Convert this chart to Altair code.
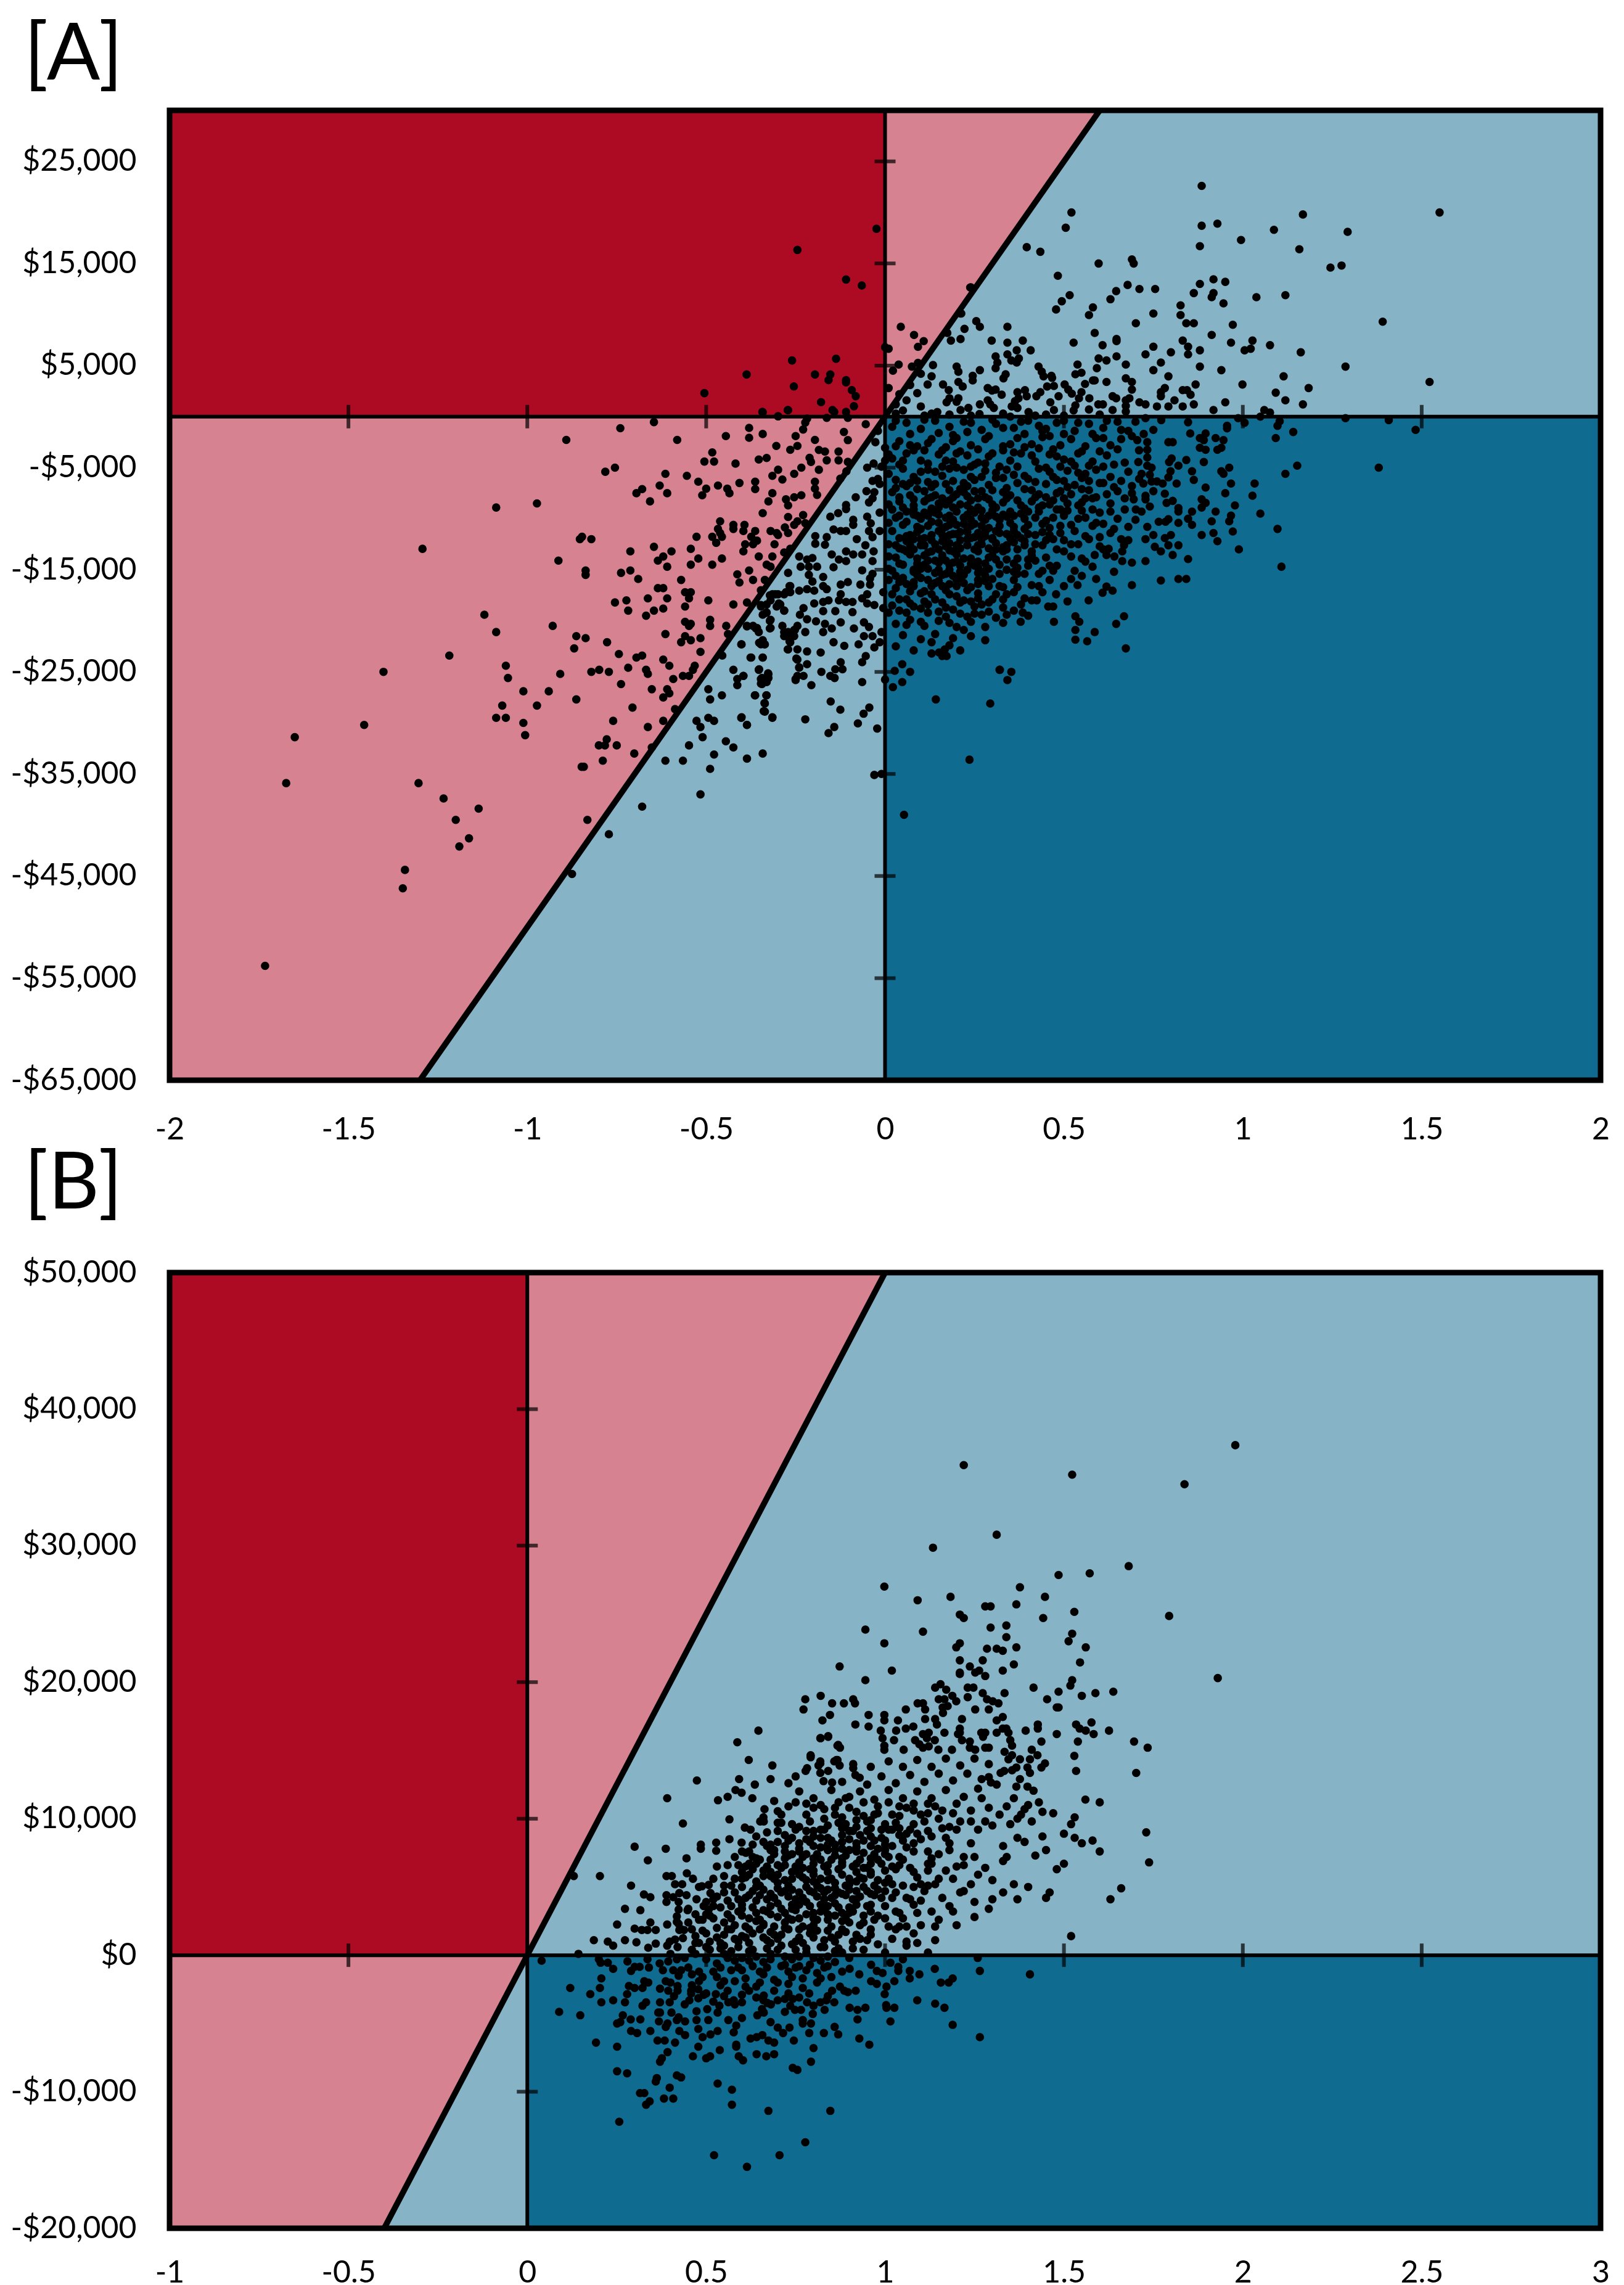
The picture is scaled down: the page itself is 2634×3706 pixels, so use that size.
import altair as alt
import pandas as pd

# All scatter values: (score, thousands of dollars)
A_LEFT = [(-1.733,-53.8),(-.024,18.4),(-.505,2.3),(-.891,-2.28),(-.74,-1.13),(-.646,-.54),(-.581,-2.28),(-1.087,-8.9),(-.973,-8.5),(-.782,-5.4),(-.755,-5),(-.614,-5.6),(-.554,-5.8),(-.505,-4.4),(-.478,-4.4),(-.483,-3.5),(-.445,-1.9),(-.38,-1.1),(-.38,-2.07),(-.342,-1.7),(-.342,.43),(-.299,.04),(-.271,.63),(-.25,-1.9),(-.304,-2.87),(-.265,-3.25),(-.245,-2.87),(-.331,-4.05),(-.353,-4.2),(-.418,-4.6),(-.299,-5.2),(-.315,-5.8),(-.254,-5.6),(-.287,-6.16),(-.363,-6.37),(-.363,-7.1),(-.407,-6.5),(-.467,-6.75),(-.522,-6.37),(-.5,-7.06),(-.511,-7.7),(-.441,-7.06),(-.435,-7.5),(-.315,-7.5),(-.326,-8.3),(-.277,-8.1),(-.271,-8.7),(-.254,-7.9),(-.342,-9.45),(-.271,-9.83),(-.63,-6.75),(-.679,-7.1),(-.695,-7.5),(-.657,-8.3),(-.609,-7.5),(-.853,-12),(-.847,-11.77),(-.821,-12),(-1.293,-12.95),(-.913,-14.1),(-.837,-15.07),(-.837,-15.5),(-.712,-13.2),(-.646,-12.75),(-.597,-13.2),(-.62,-13.7),(-.635,-14.1),(-.609,-14.7),(-.543,-12.95),(-.522,-13.9),(-.543,-14.5),(-.527,-11.77),(-.483,-11.77),(-.467,-11),(-.461,-10.25),(-.461,-11.4),(-.456,-11.77),(-.472,-12.36),(-.424,-10.6),(-.424,-11),(-.393,-10.6),(-.396,-11.2),(-.363,-11.2),(-.374,-11.77),(-.358,-12.15),(-.391,-12.5),(-.369,-12.5),(-.396,-13.2),(-.456,-13.9),(-.483,-14.5),(-.353,-13.7),(-.315,-13.7),(-.309,-12.5),(-.32,-11.2),(-.303,-11.4),(-.299,-11.6),(-.28,-10.85),(-.271,-11.4),(-.254,-10.6),(-.245,-10.25),(-.331,-14.5),(-.32,-14.7),(-.282,-13.3),(-.265,-12.95),(-.413,-15.45),(-.407,-16.25),(-.38,-15.07),(-.369,-16),(-.738,-15.3),(-.712,-15.07),(-.69,-15.9),(-.57,-16),(-.635,-16.8),(-.62,-16.8),(-.559,-17.2),(-.543,-17.2),(-.548,-17.8),(-.663,-17.8),(-.609,-17.8),(-.755,-18.2),(-.723,-18),(-.718,-19),(-.646,-19),(-.62,-18.8),(-.668,-19.5),(-.559,-18.6),(-.494,-18),(-.424,-18.4),(-.386,-18.2),(-1.12,-19.4),(-1.087,-21.1),(-.929,-20.5),(-.863,-21.5),(-.837,-21.7),(-.869,-22.7),(-.777,-22.1),(-.614,-21.3),(-.559,-20.1),(-.543,-20.3),(-.548,-20.5),(-.489,-19.9),(-.489,-20.5),(-.516,-21.7),(-.559,-21.5),(-.57,-22.1),(-.543,-21.9),(-.516,-23.04),(-.444,-20.5),(-.439,-21.3),(-1.218,-23.4),(-1.06,-24.4),(-1.054,-25.6),(-1.402,-25),(-.744,-23.25),(-.695,-23.6),(-.679,-23.4),(-.718,-24.6),(-.668,-24.8),(-.663,-25.2),(-.821,-25),(-.799,-24.8),(-.772,-25),(-.908,-25.2),(-.62,-23.8),(-.603,-24.4),(-.565,-25.4),(-.548,-25.4),(-.537,-24.8),(-.532,-24.4),(-.738,-26.2),(-.592,-25.7),(-.652,-26.7),(-.609,-26.7),(-.603,-27.1),(-.62,-27.5),(-1.011,-26.9),(-.94,-26.9),(-.863,-27.7),(-1.07,-28.3),(-.973,-28.3),(-1.087,-29.5),(-1.06,-29.5),(-1.011,-30),(-1.006,-31.2),(-.706,-28.5),(-.587,-28.65),(-.76,-29.8),(-.62,-29.8),(-.663,-30.4),(-1.456,-30.2),(-1.65,-31.4),(-.778,-31.6),(-.8,-32.2),(-.783,-32.2),(-.75,-32.2),(-.701,-33),(-.789,-33.7),(-.848,-34.3),(-.842,-34.3),(-.652,-32.4),(-1.674,-35.9),(-1.304,-35.9),(-1.234,-37.4),(-1.136,-38.4),(-1.2,-39.5),(-.832,-39.5),(-1.163,-41.3),(-1.19,-42.1),(-1.342,-44.4),(-1.348,-46.2),(-.875,-44.8)]
A_BLUE_LOW = [(-.772,-40.9),(-.679,-38.2),(-.516,-37),(-.489,-34.5),(-.614,-33.7),(-.565,-33.7),(-.548,-32.2),(-.51,-31.4),(-.478,-33.1),(-.445,-31.8),(-.424,-32.4),(-.386,-33.5),(-.342,-33),(-.527,-29.8),(-.516,-30.4),(-.494,-29.5),(-.478,-29.8),(-.402,-29.5),(-.386,-30.2),(-.315,-29.5),(-.336,-28.9),(-.336,-28.1),(-.331,-27.3),(-.363,-27.3),(-.494,-26.7),(-.489,-27.7),(-.456,-27.3),(-.413,-25.7),(-.413,-26.3),(-.396,-25.4),(-.424,-24.8),(-.344,-25.6),(-.344,-26.2),(-.331,-26),(-.326,-25.2),(-.326,-25.6),(-.353,-24.8),(-.374,-23.6),(-.342,-23.6),(-.455,-23.4),(-.402,-22.3),(-.347,-22.3),(-.342,-21.9),(-.336,-22.3),(-.386,-20.5),(-.369,-20.5),(-.358,-20.7),(-.353,-21.1),(-.287,-20.5),(-.32,-19.9),(-.32,-20.7),(-.342,-19.4),(-.331,-19.2),(-.282,-19),(-.303,-18.6),(-.293,-18.4),(-.347,-18.6),(-.331,-18.4),(-.32,-18),(-.315,-17.4),(-.299,-17.4),(-.282,-17.4),(-.276,-17.2),(-.265,-16.6),(-.265,-17.2),(-.347,-17),(-.336,-16),(-.271,-15.3),(-.282,-21.1),(-.271,-21.1),(-.254,-20.9),(-.245,-20.5),(-.276,-21.5),(-.254,-21.5),(-.265,-22.1),(-.271,-22.8),(-.245,-22.8),(-.245,-23.8),(-.24,-24.6),(-.25,-25.7),(-.245,-25.4)]
A_TOP_LEFT = [(-.245,16.33),(-.109,13.43),(-.065,12.85),(-.26,5.5),(-.137,5.67),(-.387,4.13),(-.196,4.13),(-.153,4.13),(-.158,3.58),(-.109,3.58),(-.109,3.36),(-.255,2.96),(-.093,2.6),(-.082,2),(-.179,1.42),(-.087,1.02),(-.343,.47),(-.272,.65),(-.147,.65),(-.142,.47),(-.109,.47),(-.299,.03),(-.163,-.12),(-.104,-.12),(-.218,-.2),(-.223,-.58),(-.054,-.74),(-.229,-1.26),(-.115,-1.5),(-.104,-2.3),(-.196,-2.28),(-.185,-3.26),(-.168,-3.42),(-.13,-3.42),(-.211,-4.03),(-.207,-4.43),(-.163,-4.28),(-.13,-4.28),(-.104,-4.43),(-.234,-5),(-.185,-5.2),(-.196,-6.37),(-.196,-7.05),(-.19,-7.67),(-.125,-6.07),(-.108,-5.36),(-.234,-7.7),(-.229,-9.64),(-.223,-10.44),(0,6.8),(.01,6.65),(.044,8.8),(.081,8),(.108,7.4),(.092,6.84),(.24,12.67),(.213,10.1),(.01,2.8),(.022,4.5),(.038,5.1),(.075,4.9),(.092,5.27),(.04,2.2),(.07,3.1),(.1,4.2),(.03,1.2),(.06,1.6),(.09,2.3)]
A_BLUE_MID = [(-.027,-2.5),(0,-3.05),(0,-4.3),(-.032,-4.6),(-.05,-5),(-.01,-4.9),(-.035,-6.3),(-.02,-6.1),(-.052,-7.3),(-.03,-7.4),(-.015,-6.6),(-.035,-8),(-.045,-8.4),(-.082,-7.9),(-.109,-8.65),(-.109,-9.05),(-.089,-10.1),(-.089,-10.6),(-.131,-9.45),(-.153,-9.8),(-.015,-9.4),(-.05,-9.8),(-.04,-10.45),(-.045,-11.2),(-.035,-11.8),(-.055,-12.6),(-.079,-12),(-.015,-11.2),(-.195,-11.7),(-.195,-12.45),(-.168,-12.55),(-.109,-11.2),(-.124,-11.2),(-.144,-11.05),(-.163,-11.8),(-.109,-13.2),(-.064,-13.5),(-.089,-13.5),(-.149,-13.5),(-.129,-14),(-.144,-14.75),(-.109,-14.15),(-.24,-13.7),(-.218,-14),(-.203,-13.85),(-.236,-14.7),(-.213,-14.7),(-.19,-14.7),(-.032,-13.2),(-.035,-14.15),(-.035,-15.4),(-.064,-15.05),(-.042,-15.85),(-.069,-16.45),(-.042,-16.45),(-.104,-16.2),(-.124,-16.45),(-.173,-15.7),(-.213,-15.5),(-.203,-16.15),(-.173,-16.6),(-.163,-16.9),(-.24,-17.05),(-.218,-16.9),(-.198,-17.05),(-.267,-16.6),(-.277,-17.2),(-.307,-17.4),(-.322,-17.5),(-.347,-18.45),(-.297,-18.3),(-.282,-19),(-.332,-19.2),(-.228,-18.75),(-.238,-19.4),(-.198,-18.3),(-.173,-18.15),(-.158,-18),(-.124,-17.4),(-.129,-18),(-.109,-18.15),(-.091,-18.15),(-.064,-17.8),(-.05,-17.4),(-.05,-18.3),(-.03,-18.45),(-.005,-17.2),(-.005,-18.75),(-.139,-19.05),(-.173,-19.05),(-.091,-19.15),(-.218,-19.85),(-.193,-20.05),(-.168,-20.3),(-.149,-20.75),(-.124,-20.15),(-.087,-20.75),(-.059,-20.15),(-.045,-20.6),(-.173,-21.1),(-.223,-21.1),(-.252,-20.9),(-.282,-21.5),(-.267,-22),(-.322,-20),(-.322,-20.75),(-.361,-20.75),(-.386,-20.55),(-.352,-22.15),(-.337,-22.3),(-.401,-22.3),(-.144,-22.1),(-.114,-22.45),(-.059,-21.5),(-.035,-21.5),(-.01,-21.1),(-.015,-22.1),(-.03,-22.6),(-.074,-22.3),(-.272,-22.8),(-.218,-23),(-.18,-23.1),(-.248,-23.7),(-.376,-23.6),(-.342,-23.6),(-.054,-23.45),(-.064,-24.05),(-.124,-24.05),(-.119,-24.75),(-.139,-24.75),(-.24,-24.55),(-.218,-24.25),(-.352,-24.75),(-.327,-25.15),(-.347,-25.7),(-.347,-26.15),(-.396,-25.4),(-.25,-25.8),(-.228,-25.4),(-.178,-25),(-.153,-25.4),(-.141,-25.6),(-.064,-26),(-.206,-26.3),(0,-25.75),(-.364,-27.3),(-.332,-27.3),(-.337,-28.05),(-.339,-28.85),(-.315,-29.45),(-.401,-29.45),(-.386,-30.2),(-.223,-29.65),(-.152,-27.9),(-.125,-28.7),(-.044,-28.5),(-.06,-29.1),(-.076,-30.05),(-.142,-30.4),(-.158,-31),(-.022,-30.55),(.022,-26.5),(.048,-26),(.027,-24.9),(.048,-24.25),(.07,-25),(.142,-27.7),(.294,-28.1),(.321,-24.8),(.353,-25),(.342,-25.8),(-.03,-35.1),(-.01,-35),(.053,-39),(.236,-33.6)]
A_UPPER = [(.885,22.6),(.521,20),(.505,18.5),(1.168,19.8),(1.55,20),(.929,18.9),(.885,18.7),(1.087,18.3),(1.293,18.1),(.995,17.3),(.88,16.7),(1.158,16.4),(.396,16.6),(.434,16.15),(.69,15.4),(.695,15),(.597,15),(1.245,14.6),(1.276,14.8),(.483,13.8),(.678,12.9),(.711,12.5),(.755,12.5),(.646,12.3),(.238,12.65),(.88,13),(.918,13.45),(.951,13.2),(.863,12.1),(.918,12.1),(.913,11.7),(.946,11.1),(1.038,11.7),(1.119,11.9),(.516,11.9),(.494,11.3),(.478,10.5),(.63,11.5),(.581,10.7),(.57,9.95),(.826,10.9),(.826,9.95),(.75,10.1),(.701,9.15),(.842,9.15),(.863,9.15),(.972,9),(1.391,9.3),(.255,9.35),(.265,8.8),(.342,8.8),(.222,8.6),(.211,10.1),(.586,8.2),(.913,8),(.174,8.2),(.184,7.45),(.211,7.6),(.298,7.45),(.342,7.25),(.385,7.45),(.647,7.6),(.647,7.4),(.527,7.25),(.608,7),(.832,7.45),(.847,6.85),(.847,6.1),(.967,7.25),(1.027,7.45),(1.022,6.65),(1.005,6.5),(1.076,7),(.75,6.85),(.728,6.1),(.88,6.5),(.799,6.3),(1.162,6.3),(.407,6.5),(.368,6.5),(.342,6.1),(.309,5.9),(.314,5.3),(.309,4.75),(.374,5.7),(.353,5.5),(.368,5.3),(.647,5.9),(.597,5.7),(.619,5.5),(.673,5.1),(.771,5.3),(.88,4.9),(.94,4.55),(.75,4.55),(1.287,4.9),(.538,5.1),(.592,4.75),(.429,4.9),(.2,4.9),(.134,5.05),(.205,4.4),(.265,4.55),(.245,4),(.245,3.55),(.438,4.4),(.443,3.95),(.465,4),(.467,3.8),(.337,4.15),(.331,3.75),(.13,3.95),(.549,4.3),(.532,4.15),(.673,3.75),(.792,3.95),(1.114,3.95),(.581,3.55),(.586,3.55),(.619,3.4),(.69,3.4),(.69,2.65),(.559,3.2),(.868,3.15),(.999,3.15),(1.522,3.4),(.205,3.4),(.217,2.95),(.162,3.15),(.119,3.15),(.453,2.95),(.472,3),(.502,3.15),(.512,2.65),(.178,2.6),(.287,2.8),(.299,2.55),(.309,2.65),(.37,2.4),(.391,2.6),(1.184,2.8),(.782,2.8),(.771,2.4),(.771,2),(.832,2.6),(.844,2.6),(.854,2.15),(.326,2.15),(.434,2.4),(.423,2),(.396,2),(.373,1.8),(.363,1.5),(.485,2),(.522,2.25),(.549,2.4),(.571,1.8),(.542,1.8),(.636,2),(.646,1.8),(.683,1.8),(.673,1.6),(1.092,2.35),(1.119,1.6),(.18,1.8),(.205,1.8),(.172,1.4),(.2,1.45),(.287,1.6),(.294,1.2),(.304,.85),(.462,1.4),(.809,1.6),(.951,1.4),(.711,1.4),(.728,1.2),(.863,1.2),(.832,1),(.792,1),(.76,1),(1.168,1.2),(.265,1.2),(.233,.85),(.211,.65),(.354,1),(.37,.85),(.596,1.2),(.609,1.2),(.472,.65),(.532,1.1),(.527,.6),(.57,.7),(.636,.65),(.673,1.05),(.673,.5),(.401,.45),(.146,.45),(.918,.65),(1.06,.65),(1.076,.4),(.264,.25),(.05,.6),(.1,1),(.13,.3),(.03,.3),(.11,.1),(.18,.2),(.24,.1),(.33,.3),(.45,.2),(.5,.1),(.6,.2),(.35,.0),(.42,.1)]
A_RIGHT = [(1.287,-.15),(1.408,-.35),(1.483,-1.3),(1.38,-5),(1.152,-4.8),(1.119,-5.6),(1.141,-1.5),(1.092,-2.1),(1.097,-.9),(1.103,-.45),(1.049,0),(.987,-.15),(1.005,-.6),(.956,-.9),(.956,-1.15),(.946,-2.3),(.94,-3.05),(.929,-3.25),(.924,-2.1),(.896,-1.65),(.88,-2.1),(.891,-2.3),(.88,-3.05),(.896,-3.25),(.853,-1.65),(.847,-.55),(.891,-4.45),(.842,-4.25),(.82,-4.8),(.858,-5.35),(.863,-6.2),(.962,-5),(.94,-5.35),(.946,-5.6),(.896,-6.95),(.967,-6.55),(1.033,-6.55),(1.027,-7.75),(.951,-7.5),(.885,-8.1),(.896,-8.45),(.885,-8.9),(.978,-8.7),(1.049,-9.5),(.924,-9.3),(.967,-9.7),(.962,-10.25),(.858,-9.3),(.847,-10),(.858,-10.6),(.913,-10.25),(.972,-11.25),(1.097,-11),(.918,-11.4),(.929,-12.2),(.885,-11.6),(.989,-13),(.847,-13.95),(1.108,-14.7),(.804,-13.55),(.82,-12.6),(.792,-12.6),(.771,-13.2),(.754,-12.75),(.842,-15.9),(.82,-15.9),(.771,-16.05),(.728,-14.15),(.728,-12),(.733,-10.8),(.75,-11.6),(.765,-10.3),(.784,-10.3),(.799,-11.6),(.782,-11.9),(.792,-10.05),(.82,-10.4),(.82,-8.95),(.82,-9.3),(.787,-8.45),(.804,-8.25),(.782,-7.55),(.75,-7.3),(.728,-7.75),(.728,-8.1),(.695,-8.1),(.717,-9.3),(.701,-9.1),(.722,-6.55),(.745,-6.35),(.76,-6.35),(.776,-6.55),(.815,-6.55),(.792,-5.95),(.798,-5.35),(.717,-5.6),(.794,-4.45),(.801,-4.1),(.708,-4.45),(.733,-4),(.733,-4.8),(.745,-5),(.733,-3.25),(.733,-2.5),(.792,-2.5),(.804,-2.5),(.75,-1.3),(.705,-2.3),(.723,-1.7),(.772,-.35),(.728,-.15),(.69,-14.3),(.663,-14.15),(.641,-13.7),(.619,-13.55),(.586,-13.55),(.663,-13.2),(.668,-12.6),(.625,-12.95),(.69,-16.5),(.619,-16.65),(.608,-17.25),(.636,-17.05),(.538,-16.5),(.569,-18),(.478,-17.4),(.456,-18.6),(.424,-18),(.668,-19.55),(.646,-20.3),(.586,-21.1),(.532,-19.55),(.543,-20.1),(.532,-20.9),(.532,-21.85),(.565,-22),(.673,-22.7),(.472,-20.1),(.385,-19.2),(.379,-20.1),(.32,-24.8),(.151,-23.1),(.167,-22.8),(.172,-23.45),(.16,-23.45)]
A_CORE = [(.02,-1),(.06,-.6),(.1,-1.2),(.14,-.4),(.18,-1),(.22,-.5),(.27,-1.3),(.31,-.7),(.36,-1.1),(.4,-.4),(.45,-1.2),(.48,-.6),(.53,-1.4),(.57,-.7),(.61,-1.1),(.65,-.5),(.68,-1.4),(.04,-2.4),(.09,-2.9),(.13,-2.2),(.17,-3),(.2,-2.1),(.24,-2.8),(.28,-2.2),(.33,-2.9),(.37,-2.1),(.41,-2.7),(.44,-2),(.49,-2.8),(.52,-2.2),(.56,-2.9),(.59,-2.1),(.63,-2.8),(.66,-2.2),(.02,-4.1),(.06,-3.6),(.1,-4.3),(.15,-3.7),(.19,-4.4),(.23,-3.8),(.26,-4.5),(.3,-3.6),(.35,-4.3),(.38,-3.6),(.42,-4.4),(.46,-3.7),(.5,-4.2),(.54,-3.6),(.58,-4.4),(.62,-3.8),(.67,-4.5),(.01,-5.6),(.05,-5.1),(.08,-5.9),(.12,-5.2),(.16,-5.8),(.2,-5),(.24,-5.9),(.28,-5.3),(.31,-6),(.34,-5.2),(.39,-5.8),(.43,-5.1),(.47,-5.9),(.51,-5.3),(.55,-6),(.59,-5.2),(.63,-5.9),(.68,-5.4),(.03,-7),(.07,-6.5),(.11,-7.3),(.14,-6.6),(.18,-7.2),(.22,-6.5),(.25,-7.3),(.29,-6.7),(.33,-7.4),(.37,-6.5),(.41,-7.2),(.45,-6.6),(.49,-7.3),(.53,-6.7),(.57,-7.2),(.61,-6.5),(.65,-7.3),(.69,-6.8),(.01,-8.6),(.04,-7.9),(.08,-8.7),(.12,-8),(.15,-8.5),(.19,-7.9),(.23,-8.7),(.26,-8),(.3,-8.6),(.34,-8),(.38,-8.7),(.42,-7.9),(.46,-8.6),(.5,-8),(.54,-8.7),(.58,-8),(.63,-8.5),(.67,-8),(.03,-9.9),(.06,-9.3),(.1,-10),(.13,-9.2),(.17,-9.9),(.2,-9.3),(.24,-10.1),(.27,-9.2),(.31,-9.8),(.35,-9.3),(.39,-10),(.43,-9.3),(.47,-9.9),(.51,-9.2),(.56,-9.9),(.6,-9.4),(.65,-10),(.02,-11.2),(.05,-10.6),(.09,-11.3),(.12,-10.7),(.15,-11.2),(.18,-10.6),(.21,-11.3),(.24,-10.7),(.28,-11.3),(.32,-10.7),(.36,-11.2),(.4,-10.6),(.44,-11.3),(.49,-10.7),(.53,-11.2),(.58,-10.7),(.63,-11.4),(.68,-10.8),(.01,-12.5),(.04,-11.9),(.07,-12.6),(.1,-12),(.14,-12.5),(.17,-11.9),(.2,-12.6),(.23,-12),(.27,-12.5),(.3,-12),(.34,-12.6),(.38,-11.9),(.42,-12.5),(.47,-12),(.52,-12.5),(.57,-12),(.6,-12.7),(.66,-12),(.03,-13.8),(.06,-13.2),(.09,-13.9),(.13,-13.2),(.16,-13.8),(.19,-13.2),(.22,-13.9),(.26,-13.2),(.29,-13.8),(.33,-13.2),(.37,-13.9),(.41,-13.2),(.45,-13.8),(.5,-13.2),(.55,-13.9),(.02,-15.1),(.05,-14.5),(.08,-15.2),(.11,-14.5),(.15,-15),(.18,-14.5),(.21,-15.2),(.25,-14.6),(.28,-15.1),(.32,-14.5),(.36,-15.2),(.4,-14.6),(.44,-15.1),(.48,-14.6),(.53,-15.1),(.58,-14.7),(.64,-15.2),(.04,-16.2),(.08,-16.6),(.12,-16),(.16,-16.6),(.2,-16),(.24,-16.7),(.28,-16.1),(.32,-16.6),(.36,-16),(.41,-16.5),(.46,-16),(.5,-16.6),(.02,-17.4),(.06,-17.9),(.1,-17.3),(.14,-17.9),(.18,-17.4),(.22,-18),(.26,-17.3),(.3,-17.9),(.34,-17.4),(.39,-17.8),(.44,-17.2),(.04,-19),(.08,-18.6),(.12,-19.2),(.17,-18.7),(.21,-19.3),(.25,-18.6),(.29,-19.1),(.33,-18.7),(.38,-18.4),(.03,-20.3),(.07,-19.9),(.11,-20.5),(.15,-20),(.2,-20.6),(.24,-20.1),(.28,-20.6),(.33,-20.2),(.05,-21.4),(.1,-21.8),(.14,-21.3),(.19,-21.7),(.24,-21.5),(.28,-21.9),(.03,-22.5),(.08,-22.9),(.13,-23.2),(.21,-22.9),(.11,-9.4),(.15,-10.4),(.19,-8.9),(.22,-10.5),(.16,-12.2),(.09,-10.8),(.25,-11.8),(.12,-13.3),(.2,-13.5),(.07,-11.6),(.27,-9.9),(.13,-7.9),(.18,-11.6),(.23,-7.8),(.05,-8.9),(.29,-10.9),(.1,-15.8),(.17,-15.4),(.26,-14.2),(.31,-12.4),(.34,-9.8),(.37,-11.6),(.41,-8.3),(.45,-10.2),(.5,-6.3),(.55,-8.4),(.6,-3.4),(.47,-3.2),(.52,-10.6),(.57,-4.8)]
A_DENSE = [(.03,-6.2),(.07,-7.7),(.1,-5.4),(.13,-6.9),(.16,-8),(.19,-6.3),(.22,-7.4),(.25,-6.2),(.28,-7.9),(.31,-5.5),(.34,-7),(.37,-8.2),(.4,-6.1),(.43,-7.6),(.46,-5.4),(.49,-9.1),(.02,-9.1),(.06,-10.3),(.08,-8.1),(.11,-11.9),(.14,-9.4),(.16,-11),(.18,-9.7),(.2,-10.6),(.21,-8.6),(.23,-9.6),(.25,-10.5),(.26,-8.9),(.28,-10.1),(.3,-9.2),(.32,-11.4),(.33,-8.4),(.35,-10.4),(.38,-9.5),(.4,-11.5),(.42,-9.9),(.44,-8.7),(.46,-10.9),(.48,-7.5),(.5,-9.7),(.03,-12.6),(.06,-11.7),(.08,-13),(.11,-12.6),(.13,-11.6),(.15,-13),(.17,-12.7),(.19,-11.5),(.21,-12.9),(.23,-11.3),(.25,-13),(.27,-12),(.29,-12.9),(.31,-11.2),(.33,-12.8),(.35,-11.9),(.37,-13),(.39,-12.2),(.41,-13.6),(.44,-12.6),(.46,-11.6),(.04,-14.4),(.07,-13.5),(.1,-14.9),(.12,-14.1),(.14,-15.3),(.16,-13.6),(.18,-15),(.2,-14.2),(.22,-15.5),(.24,-13.9),(.26,-15.3),(.28,-14.4),(.3,-13.6),(.32,-15.4),(.34,-14),(.36,-14.4),(.39,-15.4),(.42,-14.1),(.46,-14.6),(.01,-16),(.03,-15.6),(.06,-16.4),(.09,-15.5),(.13,-16.6),(.15,-16.1),(.18,-16.4),(.22,-16.3),(.26,-16.4),(.3,-15.9),(.33,-16.7),(.37,-15.4),(.04,-17.9),(.07,-17.1),(.11,-18.1),(.13,-17.4),(.16,-18.2),(.2,-17.6),(.24,-18.1),(.27,-18.4),(.31,-17.4),(.36,-17.2),(.41,-18),(.02,-18.5),(.06,-19.2),(.1,-18.8),(.15,-19.1),(.19,-18.9),(.23,-19.6),(.27,-19.4),(.31,-19.7),(.01,-3.7),(.04,-4.7),(.08,-3.3),(.12,-4.6),(.17,-4.3),(.21,-3.4),(.25,-4.7),(.29,-3.9),(.33,-3.3),(.37,-4.9),(.41,-3.8),(.45,-5),(.49,-4.9),(.53,-4.8),(.56,-5.6),(.6,-6.5),(.62,-7.6),(.56,-8),(.52,-7.6),(.58,-9.1),(.61,-10.5),(.54,-10),(.56,-11.7),(.5,-12.1),(.48,-13),(.52,-13.7),(.47,-15.1),(.55,-15.6),(.43,-16.6),(.61,-13),(.63,-9.3),(.66,-6.3),(.64,-4.7),(.71,-3.3),(.74,-5.7),(.69,-7.5),(.7,-10.1),(.74,-8.8),(.68,-12.1),(.12,-6.4),(.17,-6.6),(.09,-7.1),(.21,-7.1),(.13,-9),(.08,-9.6),(.15,-8.9),(.18,-8.2),(.1,-11),(.13,-10.3),(.17,-10.8),(.2,-11.5),(.23,-10.9),(.26,-11.4),(.08,-12),(.05,-13),(.18,-13.1),(.23,-12.6),(.14,-14.1),(.19,-14.3),(.11,-13.6),(.24,-14.4),(.08,-15),(.16,-15.5),(.21,-15.7),(.26,-16),(.29,-14.9),(.3,-11.9),(.27,-10.7),(.29,-8.1),(.33,-9.6),(.24,-9.1),(.36,-10.8),(.39,-12.6),(.34,-13),(.06,-6.8),(.22,-5.2),(.16,-4.9),(.03,-2.9),(.07,-1.7),(.12,-2.6),(.15,-1.6),(.19,-2.4),(.23,-1.5),(.26,-3.2),(.29,-1.9),(.33,-1.1),(.35,-2.7),(.39,-1.7),(.43,-.9),(.46,-1.9),(.5,-1.7),(.54,-.6)]
A_DENSE2 = [(.04,-8.3),(.09,-6.3),(.14,-5.4),(.18,-5.1),(.23,-6.8),(.27,-5.9),(.3,-7.2),(.33,-6),(.36,-5.7),(.39,-7.1),(.42,-6.4),(.45,-7.9),(.48,-6.2),(.51,-6.9),(.54,-5.5),(.57,-6.3),(.61,-4.9),(.64,-6.9),(.02,-7.4),(.05,-6.6),(.08,-9.1),(.11,-8.3),(.14,-7.7),(.17,-8.6),(.2,-7.6),(.24,-8.2),(.27,-7.3),(.31,-8.9),(.35,-7.7),(.39,-9),(.43,-8.9),(.47,-8.2),(.51,-8.5),(.55,-7.1),(.59,-7.9),(.06,-12.2),(.09,-9.7),(.12,-9.7),(.15,-9.6),(.19,-10.1),(.22,-9.9),(.25,-9.4),(.29,-9.7),(.32,-10.1),(.36,-9.7),(.4,-9.3),(.44,-10.5),(.48,-9.1),(.55,-9.2),(.59,-10.4),(.1,-12.6),(.13,-12.1),(.16,-11.6),(.18,-12.4),(.21,-12.1),(.24,-11.9),(.26,-12.6),(.28,-11.7),(.31,-13),(.34,-11.5),(.36,-12.3),(.39,-11),(.42,-11.6),(.45,-12.1),(.49,-11.4),(.54,-12.5),(.09,-14.4),(.12,-14.9),(.15,-14.3),(.17,-14.1),(.19,-15.6),(.21,-14.6),(.23,-15),(.26,-14.8),(.28,-15.6),(.31,-14),(.34,-15),(.37,-14.8),(.4,-14),(.43,-15.4),(.05,-15.8),(.08,-16.2),(.11,-17.1),(.14,-16.3),(.17,-17),(.2,-16.6),(.23,-17),(.26,-17.8),(.29,-16.6),(.33,-17.9),(.37,-16.7),(.07,-18.3),(.12,-18.4),(.17,-19.6),(.21,-18.2),(.25,-19.3),(.29,-18.2),(.34,-19.4),(.01,-10.4),(.04,-9.7),(.01,-13.7),(.04,-12.9),(.01,-14.9),(.03,-16.8),(.01,-19.2),(.06,-20.4),(.1,-20.1),(.18,-20.2),(.22,-20.9),(.13,-22.1),(.18,-22.4),(.36,-19),(.4,-19.5),(.47,-18.6),(.51,-18.1),(.52,-15.9),(.56,-14.2),(.59,-15.9),(.6,-11.8),(.64,-11),(.67,-9.1),(.71,-6.1),(.65,-3.2),(.69,-1.9),(.62,-.4),(.58,-1.7),(.55,-3.4),(.52,-4.4),(.48,-3.9),(.43,-3.1),(.39,-3),(.36,-3.5),(.32,-4.9),(.28,-4.6),(.24,-4.9),(.2,-3.6),(.16,-3.3),(.11,-3.3),(.07,-2.8),(.05,-4.3),(.66,-1.3),(.7,-.5),(.61,-2.1),(.5,-.4),(.44,-1.4),(.38,-.5),(.3,-.3),(.24,-.6),(.19,-1.8),(.11,-.3),(.03,-.4),(-.02,-1.4)]

B_UPPER = [(1.979,37.36),(1.837,34.5),(1.523,35.2),(1.22,35.9),(1.312,30.8),(1.134,29.85),(1.681,28.5),(1.572,27.97),(1.485,27.85),(.998,27),(1.377,26.95),(1.447,26.25),(1.183,26.25),(1.091,26),(1.367,25.7),(1.28,25.55),(1.295,25.55),(1.529,25.15),(1.209,24.95),(1.22,24.7),(1.442,24.7),(1.794,24.85),(1.295,24),(1.339,24.15),(.945,23.85),(1.106,23.7),(1.339,23.3),(1.523,23.55),(1.513,23),(1.561,22.55),(.998,22.85),(1.209,22.85),(1.199,22.55),(1.367,22.55),(1.285,22.45),(1.312,22.45),(1.329,22.3),(.873,21.15),(1.019,20.85),(.945,20.15),(1.209,21.6),(1.273,21.6),(1.237,21.15),(1.36,21.3),(1.545,21.45),(1.329,20.85),(1.263,20.85),(1.252,20.7),(1.209,20.7),(1.209,20.6),(1.28,20.45),(1.93,20.3),(1.523,20.15),(1.518,19.75),(1.415,19.6),(1.485,19.3),(1.638,19.3),(1.588,19.2),(1.55,19),(1.453,18.75),(1.48,18.15),(1.485,18.15),(1.155,19.85),(1.14,19.6),(1.171,19.45),(1.231,19.6),(1.247,19.6),(1.188,19),(1.199,18.6),(1.231,18.9),(1.273,19.2),(1.285,18.75),(1.301,18.6),(1.317,18.45),(1.334,19.2),(1.15,18.75),(1.166,18.75),(1.161,18.15),(1.175,18.25),(1.162,17.75),(1.252,18),(1.29,18),(1.091,18.45),(1.106,18.45),(1.112,18),(1.058,18),(.82,19),(.777,18.75),(.772,18),(.852,18.45),(.885,18.45),(.911,18.75),(.916,18.45),(.846,17.6),(.825,17.2),(.954,17.6),(.954,16.75),(.917,16.9),(.998,17.6),(.998,17.2),(1.112,17.3),(1.14,17.3),(1.145,16.9),(1.215,17.3),(1.329,17.45),(1.312,17.2),(1.036,17.2),(1.079,16.75),(1.058,16.6),(1.031,16.45),(.988,16.45),(1.427,16.9),(1.427,16.6),(1.534,16.9),(1.544,16.6),(1.561,16.45),(1.577,17.05),(1.583,16.2),(1.626,16.45),(1.48,16.2),(1.393,16.45),(1.209,16.6),(1.209,16.3),(1.204,16.2),(1.166,16.3),(1.269,16.3),(1.28,16.3),(1.274,16),(1.312,16.3),(1.329,16.6),(1.339,16.6),(1.345,16.3),(1.106,16.2),(1.122,16.3),(1.117,15.9),(1.139,15.75),(1.084,15.75),(1.096,15.45),(1.106,15.2),(1.122,15.3),(.993,15.9),(1.025,15.75),(.998,15.35),(.998,15.05),(1.052,15.05),(1.149,15.05),(1.187,15.05),(1.215,15.75),(1.237,15.65),(1.237,15.2),(1.252,15.05),(1.28,15.2),(1.29,15.2),(1.35,15.75),(1.355,15.35),(1.334,14.9),(1.41,15.05),(1.426,14.65),(1.437,15.65),(1.539,15.65),(1.696,15.65),(1.734,15.2),(1.529,14.6),(1.534,13.5),(1.702,13.35),(1.447,14.05),(1.437,13.75),(1.405,14.35),(1.398,13.75),(1.405,13.35),(1.345,14.35),(1.355,14.65),(1.377,14.35),(1.367,13.75),(1.355,13.55),(1.333,13.5),(1.323,13.35),(1.377,12.9),(1.367,12.35),(1.398,12.35),(1.415,12.05),(1.312,12.5),(1.296,12.65),(1.29,13.05),(.841,16.05),(.82,15.9),(.867,15.35),(.874,15.2),(.792,14.65),(.792,14.5),(.819,14.2),(.814,13.9),(.858,14.2),(.867,14.3),(.873,13.9),(.911,14),(.911,13.7),(.917,13.2),(.929,13),(.778,13.5),(.841,13.5),(.819,13.35),(.828,12.75),(.852,12.65),(1.63,4.1),(1.738,6.8),(1.73,9),(1.66,4.9),(1.58,8.4),(1.5,8.9),(1.55,8.2),(1.6,7.6),(1.53,8.6),(1.52,9.6),(1.53,10.1),(1.56,11.4),(1.6,11.2),(1.5,6.7),(1.46,4.6),(1.45,4.2),(1.52,1.4),(1.48,6.3),(1.45,7.7),(1.42,7.3),(1.44,8.7),(1.41,9.8),(1.44,10.5),(1.4,11),(1.43,11.2),(1.47,10.4),(1.39,10.7),(1.37,10),(1.34,10.9),(1.36,11.5),(1.38,10.3),(1.35,9.6),(1.3,9.5),(1.32,10.3),(1.29,10.8),(1.27,11.5),(1.28,9.8),(1.26,9.2),(1.34,7.2),(1.37,8.6),(1.39,8.3),(1.33,8),(1.33,6.9),(1.36,5.2),(1.4,5),(1.37,4.1),(1.33,4.6),(1.3,4.1),(1.3,5.5),(1.28,6.4),(1.24,8.2),(1.22,6.6),(1.26,5.9),(1.25,3.9),(1.22,4.7),(1.29,3.4),(1.25,2.8)]
B_LOWER = [(.614,-15.5),(.522,-14.65),(.705,-14.65),(.777,-13.7),(.257,-12.2),(.674,-11.4),(.847,-11.4),(.572,-10.95),(.572,-9.85),(.532,-9.4),(.408,-10.5),(.382,-10.5),(.342,-10.7),(.332,-10.95),(.315,-10.1),(.327,-10.1),(.398,-9.7),(.362,-9),(.359,-9.25),(.418,-8.8),(.43,-8.95),(.251,-8.5),(.279,-8.65),(.742,-8.25),(.755,-8.4),(.793,-7.8),(.251,-6.7),(.192,-6.4),(.089,-4.15),(.148,-4.4),(.956,-6.55),(.928,-6.1),(1.265,-6),(1.189,-5.1),(1.166,-3.85),(1.14,-3.55),(1.09,-3.3),(1.026,-3.85),(1.004,-3.85),(1.003,-3.65),(1.015,-4.85),(.923,-4.7),(.923,-4),(.945,-3.85),(.901,-3.85),(1.405,-1.4),(1.265,-1.15),(1.259,-.2),(1.189,-1.7),(1.178,-2),(1.156,-2),(1.139,-1),(1.096,-1.4),(1.069,-1.15),(1.069,-1.7),(1.026,-1.9),(1.004,-2.3),(.999,-2.85),(.977,-2.1),(.961,-1.9),(.977,-1.15),(.993,-1.3),(.961,-.7),(.928,-1.4),(.901,-.99),(1.037,-1.15),(1.037,-.85),(1.015,-.55),(.918,-2.6),(.896,-2.7),(.886,-2.6),(.874,-2.3),(.852,-2.6),(.858,-3.45),(.836,-3.3),(.819,-3.45),(.831,-4),(.798,-4.3),(.765,-4),(.748,-4),(.72,-4.15),(.77,-4.75),(.793,-5),(.77,-5),(.788,-5.7),(.829,-5.7),(.859,-5.25),(.869,-5.8),(.745,-6.25),(.8,-6.8),(.7,-5.3),(.733,-5.3),(.715,-5.7),(.674,-6.25),(.69,-6.4),(.69,-7.25),(.668,-7.4),(.641,-7.25),(.591,-7.4),(.603,-7.7),(.624,-6.1),(.641,-6),(.657,-5.85),(.584,-6.7),(.584,-6.55),(.538,-6.95),(.511,-7.4),(.5,-7.55),(.463,-7.4),(.478,-6.7),(.392,-7.1),(.371,-7.8),(.376,-7.55),(.413,-6.4),(.384,-6.25),(.364,-6.25),(.441,-5.85),(.425,-5.55),(.392,-5),(.387,-5.25),(.368,-4.85),(.366,-4.2),(.316,-4.7),(.289,-4.7),(.29,-5.55),(.307,-5.7),(.344,-5.55),(.267,-4.4),(.26,-4.9),(.251,-5),(.322,-3.7),(.332,-3.45),(.273,-3.45),(.24,-3.3),(.207,-3.45),(.176,-2.85),(.203,-2.4),(.207,-1.7),(.284,-2.25),(.3,-2.4),(.322,-2.4),(.279,-2.85),(.327,-1.9),(.338,-2),(.371,-2.45),(.394,-2.6),(.42,-2.6),(.42,-2.25),(.387,-1.9),(.371,-3.45),(.371,-4.2),(.398,-3.45),(.403,-4.2),(.423,-4.55),(.441,-4.85),(.418,-4.75),(.478,-2.5),(.478,-3.15),(.493,-2.9),(.458,-2.6),(.458,-2.8),(.453,-3.3),(.473,-4.1),(.473,-4.75),(.503,-3.95),(.506,-4.75),(.527,-2.85),(.55,-3),(.537,-3.7),(.562,-3.45),(.577,-3.3),(.532,-4.2),(.562,-4.75),(.584,-5.15),(.532,-5.55),(.512,-5.8),(.478,-5.4),(.49,-6),(.6,-2.9),(.6,-3.45),(.661,-2.95),(.671,-3.5),(.656,-3.95),(.643,-4.4),(.681,-3.6),(.73,-2.8),(.735,-3.7),(.742,-3.2),(.782,-3.45),(.788,-2.8),(.661,-4.2),(.577,-5.65)]
B_LEFT = [(.203,5.8),(.3,7.95),(.337,6.95),(.29,5.1),(.387,7.8),(.435,9.65),(.391,11.5),(.474,12.8),(.533,11.35),(.56,11.6),(.582,12.1),(.599,11.9),(.587,15.6),(.646,16.45),(.592,12.9),(.636,12.5),(.68,12.9),(.619,14.3),(.685,13.9),(.629,11.5),(.565,9.95),(.565,8.5),(.445,7.1),(.446,6),(.485,8.1),(.485,7.8),(.528,8.25),(.528,7.65),(.599,8.25),(.611,7.5),(.608,9.35),(.624,9.2),(.651,9.8),(.661,9.8),(.663,10.7),(.7,10.55),(.69,11.3),(.73,12.6),(.75,13.1),(.782,13.7),(.819,14.05),(.819,15.9),(.841,16),(.792,14.6),(.869,15.4),(.864,14.3),(.273,3.4),(.316,3.3),(.251,2.25),(.3,1.95),(.32,1.85),(.336,1.85),(.359,1.85),(.344,2.4),(.391,2.25),(.418,2.45),(.425,1.85),(.438,1.85),(.186,1.1),(.225,1),(.24,.7),(.273,1.1),(.305,.95),(.359,.85),(.338,.55),(.391,.7),(.398,1),(.413,1.15),(.435,1.25),(.143,.1),(.2,-.3),(.205,-.55),(.225,-.55),(.28,-.45),(.29,-1.15),(.3,-.85),(.314,-.85),(.336,-.3),(.379,-1.1),(.394,-.45),(.418,-.3),(.408,-1.1),(.423,-1.5),(.326,4.45),(.344,4.25),(.389,5.8),(.404,5.8),(.413,5.2),(.433,5.2),(.425,4.55),(.389,4.4),(.389,3.9),(.408,4.25),(.423,3.9),(.445,4.4),(.423,3.35),(.448,3.3),(.418,2.85),(.423,2.3),(.463,5.6),(.488,5.05),(.507,5.15),(.512,4.55),(.473,4.1),(.493,3.6),(.507,3.35),(.04,-.4),(.13,5.8),(.12,-2.4),(.24,-1),(.34,-.9)]
B_CORE = [(.46,.4),(.5,-.3),(.54,.5),(.58,-.4),(.62,.3),(.66,-.5),(.7,.4),(.74,-.3),(.78,.5),(.82,-.4),(.86,.3),(.9,-.2),(.94,.4),(1,.2),(1.06,.7),(.48,-1.2),(.53,-1.6),(.57,-1.1),(.61,-1.7),(.65,-1.2),(.69,-1.8),(.73,-1.2),(.77,-1.7),(.81,-1.3),(.85,-1.6),(.47,1.4),(.51,1),(.55,1.5),(.59,1),(.63,1.6),(.67,1.1),(.71,1.5),(.75,1),(.79,1.6),(.83,1.1),(.87,1.5),(.91,1),(.96,1.5),(1.02,1.2),(1.08,1.6),(1.14,1.1),(.49,2.6),(.53,2),(.57,2.7),(.61,2.1),(.65,2.6),(.69,2.1),(.73,2.7),(.77,2.1),(.81,2.6),(.85,2.1),(.89,2.7),(.93,2.2),(.97,2.6),(1.01,2.1),(1.05,2.7),(1.1,2.2),(1.15,2.6),(1.2,2.2),(.52,3.6),(.56,3),(.6,3.7),(.64,3.1),(.68,3.6),(.72,3.1),(.76,3.7),(.8,3.1),(.84,3.6),(.88,3.1),(.92,3.7),(.96,3.2),(1,3.6),(1.04,3.1),(1.08,3.7),(1.13,3.2),(1.18,3.6),(.55,4.6),(.59,4.1),(.63,4.7),(.67,4.1),(.71,4.6),(.75,4.1),(.79,4.7),(.83,4.1),(.87,4.6),(.91,4.1),(.95,4.7),(.99,4.2),(1.03,4.6),(1.07,4.1),(1.11,4.7),(1.16,4.2),(1.21,4.6),(.52,5.6),(.57,5.1),(.61,5.7),(.65,5.1),(.69,5.6),(.73,5.1),(.77,5.7),(.81,5.1),(.85,5.6),(.89,5.1),(.93,5.7),(.97,5.1),(1.01,5.6),(1.05,5.1),(1.09,5.7),(1.14,5.2),(1.19,5.6),(.56,6.6),(.6,6.1),(.64,6.7),(.68,6.1),(.72,6.6),(.76,6.1),(.8,6.7),(.84,6.1),(.88,6.6),(.92,6.1),(.96,6.7),(1,6.2),(1.04,6.6),(1.08,6.1),(1.12,6.7),(1.17,6.2),(.6,7.6),(.64,7.1),(.68,7.7),(.72,7.1),(.76,7.6),(.8,7.1),(.84,7.7),(.88,7.1),(.92,7.6),(.96,7.1),(1,7.7),(1.04,7.2),(1.08,7.6),(1.13,7.1),(1.18,7.7),(1.22,7.2),(.64,8.7),(.68,8.1),(.72,8.8),(.76,8.2),(.8,8.7),(.84,8.1),(.88,8.8),(.92,8.2),(.96,8.7),(1,8.1),(1.04,8.8),(1.08,8.2),(1.13,8.7),(1.18,8.2),(.71,9.7),(.75,9.2),(.79,9.8),(.83,9.2),(.87,9.7),(.91,9.1),(.95,9.8),(.99,9.2),(1.03,9.7),(1.07,9.2),(1.11,9.8),(1.16,9.3),(1.21,9.8),(.73,10.9),(.78,10.3),(.82,11),(.86,10.3),(.9,10.8),(.94,10.2),(.98,10.9),(1.02,10.3),(1.06,10.8),(1.1,10.3),(1.14,10.9),(1.19,10.4),(1.24,10.6),(.76,12),(.8,11.5),(.85,12.1),(.89,11.5),(.93,12),(.97,11.4),(1.01,12.1),(1.05,11.5),(1.09,12),(1.13,11.5),(1.17,12.1),(1.22,11.6),(1.26,12.2),(.88,12.7),(.95,12.5),(.99,13.1),(1.03,12.6),(1.07,13.2),(1.11,12.7),(1.15,13.3),(1.19,12.8),(1.23,13.3),(1.27,12.9),(.96,13.8),(1.01,14.2),(1.05,13.8),(1.09,14.3),(1.13,13.8),(1.17,14.4),(1.21,13.9),(1.25,14.4),(1.29,14),(.83,4.6),(.86,7.3),(.8,5.4),(.77,6.4),(.9,3.5),(.84,2.6),(.74,3.4),(.7,5.9),(.94,6.4),(.88,8.3),(.82,8.6),(.74,7.4),(.66,2.3),(.6,1.4),(.55,.7),(.52,4.1),(.68,.9),(.76,-.1),(.97,8.4),(1.02,5.2),(1.06,8.9),(.92,9.4),(.8,10.8),(1.12,6.2),(.48,.9),(.44,-.2),(.9,5.6),(.86,4.4)]
B_DENSE = [(.55,.1),(.58,1.2),(.6,-.2),(.62,.9),(.64,-.1),(.66,1.3),(.68,.1),(.7,1.2),(.72,-.1),(.74,.8),(.76,1.3),(.78,.2),(.8,1.3),(.82,.6),(.84,-.1),(.86,1),(.88,.2),(.58,2.2),(.6,2.9),(.62,1.9),(.64,2.5),(.66,3.3),(.68,1.7),(.7,2.8),(.72,2),(.74,2.6),(.76,1.9),(.78,3),(.8,2.2),(.82,3.2),(.84,1.8),(.86,2.9),(.88,1.9),(.9,2.4),(.92,1.5),(.94,2.9),(.96,1.9),(.57,3.6),(.59,3.2),(.61,4.2),(.63,3.5),(.65,4.4),(.67,3.2),(.69,4.2),(.71,3.4),(.73,4.3),(.75,3.3),(.77,4.2),(.79,3.6),(.81,4.3),(.83,3.3),(.85,4.2),(.87,3.5),(.89,4.4),(.91,3.2),(.93,4.3),(.95,3.6),(.97,4.4),(.6,5),(.62,5.9),(.64,5.4),(.66,4.8),(.68,5.8),(.7,4.9),(.72,5.5),(.74,4.8),(.76,5.9),(.78,5),(.8,5.9),(.82,4.9),(.84,5.5),(.86,4.9),(.88,5.9),(.9,4.8),(.92,5.4),(.94,5),(.96,5.9),(.98,4.8),(1,5.3),(.63,6.3),(.65,7),(.67,6.5),(.69,7.4),(.71,6.4),(.73,7.3),(.75,6.5),(.77,7.2),(.79,6.3),(.81,7.4),(.83,6.5),(.85,7),(.87,6.3),(.89,7.3),(.91,6.5),(.93,7),(.95,6.4),(.97,7.4),(.99,6.7),(1.01,7.2),(1.03,6.3),(.7,8.3),(.72,8),(.74,8.6),(.76,7.8),(.78,8.5),(.8,8),(.82,7.9),(.84,8.6),(.86,8.1),(.88,7.8),(.9,8.5),(.92,7.9),(.94,8.4),(.96,8),(.98,7.8),(1,8.4),(1.02,8),(1.06,7.9),(1.1,8.5),(.8,9.1),(.84,9.5),(.88,9.3),(.92,9.9),(.96,9.3),(1,9.6),(1.04,9.3),(1.08,9.6),(1.12,9.1),(.86,10.8),(.92,10.5),(.98,10.4),(1.04,10.9),(1.08,10.6),(1.12,10.4),(.42,.6),(.45,-.9),(.47,.1),(.49,-1.6),(.51,.4),(.53,-.6),(.55,-1.9),(.57,.3),(.59,-.9),(.61,-2.3),(.63,-.8),(.65,-2),(.67,-.9),(.69,-2.6),(.71,-.8),(.73,-2.1),(.75,-.9),(.77,-2.4),(.79,-.7),(.81,-2),(.83,-.9),(.45,2.4),(.47,3),(.49,1.8),(.51,2.9),(.53,1.3),(.55,2.4),(.57,1.9),(.5,3.9),(.54,3.5),(.48,5),(.55,5.1),(.58,5.6),(.53,6.5),(.58,7.2),(.63,8.1),(.67,9),(.71,10.3),(.66,10.1),(.75,11.2),(.69,7.7),(.74,9.6),(.78,9.1),(.62,6.7),(.83,10),(.89,9.6),(.95,9.1),(1.01,9.2),(.43,1.9),(.46,-1.4),(.4,-2),(.44,-3.6),(.48,-1.9),(.52,-3.4),(.56,-2.6),(.6,-4.6),(.64,-3.1),(.68,-4.9),(.72,-3.2),(.76,-3.1),(.8,-3.7),(.84,-3),(1.04,2.1),(1.09,3.1),(1.06,4.2),(1.1,5.2),(1.15,5.6),(1.12,7.6),(1.17,8.6),(1.2,9.2),(1.15,10),(1.2,11.1),(1.24,9.8),(1.25,7.2),(1.2,6.5),(1.24,5.2),(1.19,3.2),(1.14,2.1),(1.09,.9),(1.05,-.3),(1.12,.2)]
B_DENSE2 = [(.56,1.9),(.59,.6),(.61,1.3),(.63,.4),(.65,1.9),(.67,.5),(.69,1.5),(.71,.7),(.73,1.9),(.75,.4),(.77,.9),(.79,2),(.81,1.8),(.83,.6),(.85,1.3),(.87,.5),(.89,1.7),(.91,.5),(.93,1.2),(.6,3.4),(.62,2.7),(.64,4),(.66,2.2),(.68,3),(.7,3.8),(.72,2.4),(.74,3.7),(.76,2.7),(.78,3.9),(.8,2.7),(.82,3.7),(.84,3),(.86,3.8),(.88,2.5),(.9,3.1),(.92,4.1),(.94,2.4),(.96,3.7),(.98,2.9),(1,2.7),(.58,4.6),(.6,5.6),(.62,4.4),(.64,5),(.66,5.8),(.68,4.5),(.7,5.3),(.72,4.7),(.74,5.6),(.76,4.6),(.78,5.5),(.8,4.6),(.82,5.6),(.84,4.8),(.86,5.3),(.88,4.5),(.9,5.2),(.92,4.7),(.94,5.6),(.96,4.5),(.98,5.5),(1,4.7),(1.02,4.2),(.61,6.5),(.63,7.2),(.66,6.2),(.68,7),(.7,6.6),(.72,7.6),(.74,6.1),(.76,6.8),(.78,7.4),(.8,6.2),(.82,7),(.84,6.6),(.86,7.7),(.88,6.8),(.9,7.7),(.92,6.7),(.94,7.5),(.96,6.1),(.98,7),(1,7.4),(1.02,6.5),(1.05,7),(1.07,6.4),(.67,8),(.7,9.1),(.73,8.4),(.76,9.4),(.79,8.3),(.82,9.2),(.85,8.4),(.88,10.1),(.9,9.1),(.93,8.8),(.96,9.9),(.99,8.6),(1.02,9.2),(1.05,8.4),(1.09,8.9),(.78,11.1),(.83,10.7),(.87,11.2),(.9,11.6),(.94,11.2),(.97,10.3),(1.01,11.2),(1.04,10.2),(1.08,11.1),(1.12,11.1),(1.16,10.6),(.5,.6),(.52,-1.2),(.54,-.9),(.56,-.2),(.58,-1.9),(.6,-1.1),(.62,-.4),(.64,-2.3),(.66,-1.4),(.68,-.3),(.7,-2),(.72,-.7),(.74,-1.6),(.76,-.8),(.78,-1.1),(.8,-.2),(.82,-1.7),(.84,-.8),(.86,-.5),(.88,-1.2),(.46,1.9),(.48,2.6),(.5,1.6),(.52,2.7),(.54,.9),(.5,3),(.53,4.3),(.56,4),(.59,6.6),(.55,5.8),(.62,7.6),(.66,8.3),(.7,9.7),(.45,3.4),(.47,.9),(.4,.1),(.37,-.6),(.43,-1.1),(.41,-3),(.46,-2.2),(.5,-2.8),(.54,-2.2),(.58,-3.6),(.62,-2.6),(.66,-3.3),(.7,-3.3),(1.03,3.2),(1.06,2.1),(1.1,4),(1.08,5),(1.12,5.1),(1.13,6.7),(1.15,7.4),(1.18,9.4),(1.03,1.9),(1.06,1),(.98,.8),(.95,1.1)]

TICKS_A_X = [-2,-1.5,-1,-.5,0,.5,1,1.5,2]
TICKS_A_Y = [-65000,-55000,-45000,-35000,-25000,-15000,-5000,5000,15000,25000]
MARKS_A_X = [-1.5,-1,-.5,.5,1,1.5]
MARKS_A_Y = [-55000,-45000,-35000,-25000,-15000,-5000,5000,15000,25000]
TICKS_B_X = [-1,-.5,0,.5,1,1.5,2,2.5,3]
TICKS_B_Y = [-20000,-10000,0,10000,20000,30000,40000,50000]
MARKS_B_X = [-.5,.5,1,1.5,2,2.5]
MARKS_B_Y = [-10000,10000,20000,30000,40000]

DARK_RED, PINK, LIGHT_BLUE, DARK_BLUE = "#AD0B23", "#D78290", "#87B3C7", "#106B90"
FONT = "Lato"
Y_EXPR = "datum.value<0?'-$'+format(-datum.value,','):'$'+format(datum.value,',')"
X_EXPR = "datum.value<0?'-'+format(-datum.value,'~g'):format(datum.value,'~g')"


def panel(label, points, xdom, ydom, xticks, yticks, xmarks, ymarks, height, title_offset, x_pad):
    x0, x1 = xdom
    y0, y1 = ydom
    slope = 50000
    xs = alt.Scale(domain=xdom, nice=False, zero=False)
    ys = alt.Scale(domain=ydom, nice=False, zero=False)
    bx = alt.X("x:Q", scale=xs, title=None,
               axis=alt.Axis(values=xticks, grid=False, domain=False, ticks=False, labelFont=FONT,
                             labelFontSize=50, labelColor="black", labelPadding=x_pad, labelExpr=X_EXPR,
                             labelOverlap=False, labelFlush=False))
    by = alt.Y("y:Q", scale=ys, title=None,
               axis=alt.Axis(values=yticks, grid=False, domain=False, ticks=False, labelFont=FONT,
                             labelFontSize=50, labelColor="black", labelPadding=54, labelExpr=Y_EXPR,
                             labelOverlap=False, labelLimit=400, minExtent=267, maxExtent=267))

    bg = alt.Chart(pd.DataFrame({"x": [x0], "x2": [x1], "y": [y0], "y2": [y1]})).mark_rect(
        color=LIGHT_BLUE).encode(x=bx, x2="x2:Q", y=by, y2="y2:Q")
    quad = pd.DataFrame({"x": [x0, 0], "x2": [0, x1], "y": [0, y0], "y2": [y1, 0],
                         "c": [DARK_RED, DARK_BLUE]})
    quads = alt.Chart(quad).mark_rect().encode(x=bx, x2="x2:Q", y=by, y2="y2:Q",
                                               color=alt.Color("c:N", scale=None))
    top_x = y1 / slope
    low_x = y0 / slope
    pink_top = alt.Chart(pd.DataFrame({"x": [0, top_x], "y": [y1, y1], "y2": [0, y1]})).mark_area(
        color=PINK).encode(x=bx, y=by, y2="y2:Q")
    pink_low = alt.Chart(pd.DataFrame({"x": [x0, low_x, 0], "y": [y0, y0, 0], "y2": [0, 0, 0]})).mark_area(
        color=PINK).encode(x=bx, y=by, y2="y2:Q")

    h = alt.Chart(pd.DataFrame({"x": [x0], "x2": [x1], "y": [0]})).mark_rule(
        color="black", strokeWidth=6).encode(x=bx, x2="x2:Q", y=by)
    v = alt.Chart(pd.DataFrame({"x": [0], "y": [y0], "y2": [y1]})).mark_rule(
        color="black", strokeWidth=6).encode(x=bx, y=by, y2="y2:Q")
    xt = alt.Chart(pd.DataFrame({"x": xmarks, "y": [0] * len(xmarks)})).mark_tick(
        orient="vertical", color="black", size=38, thickness=6).encode(x=bx, y=by)
    yt = alt.Chart(pd.DataFrame({"x": [0] * len(ymarks), "y": ymarks})).mark_tick(
        orient="horizontal", color="black", size=34, thickness=6).encode(x=bx, y=by)
    diag = alt.Chart(pd.DataFrame({"x": [low_x, top_x], "y": [y0, y1]})).mark_line(
        color="black", strokeWidth=9.5).encode(x=bx, y=by)
    dots = alt.Chart(pd.DataFrame(points, columns=["x", "yk"])).transform_calculate(
        y="datum.yk*1000").mark_point(filled=True, color="black", opacity=1, size=185).encode(x=bx, y=by)
    frame = alt.Chart(pd.DataFrame({"x": [x0], "x2": [x1], "y": [y0], "y2": [y1]})).mark_rect(
        filled=False, stroke="black", strokeWidth=9).encode(x=bx, x2="x2:Q", y=by, y2="y2:Q")

    return alt.layer(bg, quads, pink_top, pink_low, h, v, xt, yt, diag, dots, frame).properties(
        width=2321, height=height,
        title=alt.TitleParams(label, font=FONT, fontSize=128, fontWeight="normal", color="black",
                              anchor="start", frame="group", dx=-236, offset=title_offset))


A_POINTS = A_LEFT + A_BLUE_LOW + A_TOP_LEFT + A_BLUE_MID + A_UPPER + A_RIGHT + A_CORE + A_DENSE + A_DENSE2
B_POINTS = B_UPPER + B_LOWER + B_LEFT + B_CORE + B_DENSE + B_DENSE2

a = panel("[A]", A_POINTS, [-2, 2], [-65000, 30000], TICKS_A_X, TICKS_A_Y, MARKS_A_X, MARKS_A_Y, 1573, 4, 55)
b = panel("[B]", B_POINTS, [-1, 3], [-20000, 50000], TICKS_B_X, TICKS_B_Y, MARKS_B_X, MARKS_B_Y, 1550, 52, 47)

chart = alt.vconcat(a, b, spacing=1, padding={"left": 0, "top": 19, "right": 0, "bottom": 0}).configure_view(stroke=None)
chart.save("out.html", embed_options={"renderer": "svg", "actions": False})
